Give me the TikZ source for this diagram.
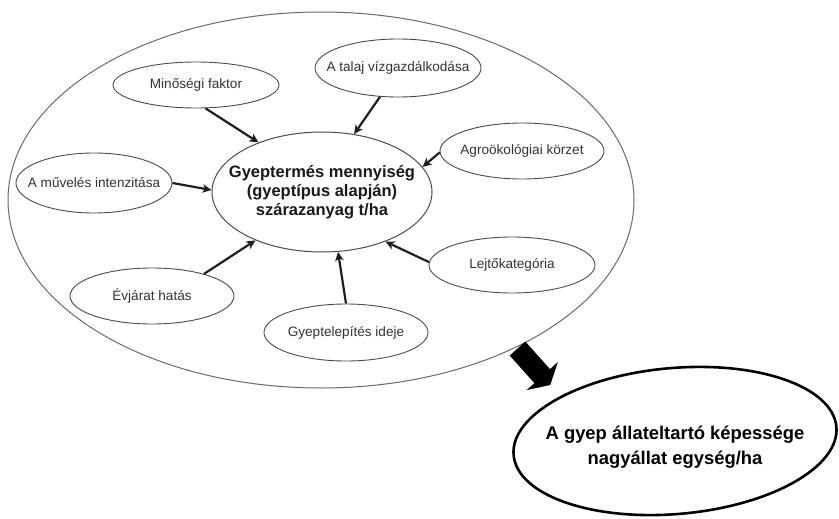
\documentclass[tikz,border=0pt]{standalone}
\usepackage{fontspec}
\setmainfont{Liberation Sans}
\usetikzlibrary{shapes.geometric,arrows.meta}
\definecolor{bigline}{HTML}{6A6A6A}
\definecolor{smallline}{HTML}{4A4A4A}
\definecolor{arrowcol}{HTML}{1E1E1E}
\definecolor{smalltext}{HTML}{333333}
\tikzset{
  factor/.style={ellipse, draw=smallline, line width=0.9pt, inner sep=0pt},
  factortext/.style={text=smalltext, font=\fontsize{13.6}{16}\selectfont},
  maintext/.style={text=black!90, align=center, font=\bfseries\fontsize{16.5}{19}\selectfont},
  resulttext/.style={text=black, align=center, font=\bfseries\fontsize{18.4}{25}\selectfont},
  infl/.style={draw=arrowcol, line width=2.2pt, -{Stealth[length=9pt,width=8.5pt,inset=2.5pt]}},
}
\begin{document}
\begin{tikzpicture}[x=1pt,y=-1pt]
\useasboundingbox (0,0) rectangle (839,519);
% outer ellipse
\node[ellipse, draw=bigline, line width=1pt, inner sep=0pt,
      minimum width=626pt, minimum height=376pt] (outer) at (321,200) {};
% central ellipse
\node[ellipse, draw=smallline, line width=1pt, inner sep=0pt,
      minimum width=220pt, minimum height=120pt,
      label={[maintext]center:Gyeptermés mennyiség\\(gyeptípus alapján)\\szárazanyag t/ha}] (center) at (322,192) {};
% factors
\node[factor, minimum width=166pt, minimum height=46pt,
      label={[factortext]center:Minőségi faktor}] (mino) at (196,85) {};
\node[factor, minimum width=166pt, minimum height=58pt,
      label={[factortext]center:A talaj vízgazdálkodása}] (talaj) at (398,68) {};
\node[factor, minimum width=164pt, minimum height=56pt,
      label={[factortext]center:Agroökológiai körzet}] (agro) at (522,151) {};
\node[factor, minimum width=156pt, minimum height=60pt,
      label={[factortext]center:A művelés intenzitása}] (muv) at (94,183) {};
\node[factor, minimum width=164pt, minimum height=56pt,
      label={[factortext]center:Évjárat hatás}] (evj) at (152,296) {};
\node[factor, minimum width=164pt, minimum height=57pt,
      label={[factortext]center:Gyeptelepítés ideje}] (gyept) at (346,332.5) {};
\node[factor, minimum width=166pt, minimum height=56pt,
      label={[factortext]center:Lejtőkategória}] (lejto) at (512,265) {};
% result ellipse
\node[ellipse, draw=black, line width=2.6pt, inner sep=0pt, rotate=5,
      minimum width=324pt, minimum height=146pt] (result) at (675,441) {};
\node[resulttext] (resultlabel) at (675,447) {A gyep állateltartó képessége\\nagyállat egység/ha};
% influence arrows
\draw[infl] (mino.292) -- (center.142.6);
\draw[infl] (talaj.238) -- (center.61.4);
\draw[infl] (agro.181) -- (center.14.5);
\draw[infl] (muv.0) -- (center.179.5);
\draw[infl] (evj.23) -- (center.216);
\draw[infl] (gyept.90) -- (center.285);
\draw[infl] (lejto.178) -- (center.322);
% block arrow from outer ellipse to result
\fill[black] (525.3,341.5) -- (550.0,369.1) -- (557.8,362.1) -- (550.2,385.0)
  -- (526.6,390.1) -- (534.4,383.1) -- (509.7,355.5) -- cycle;
\end{tikzpicture}
\end{document}
